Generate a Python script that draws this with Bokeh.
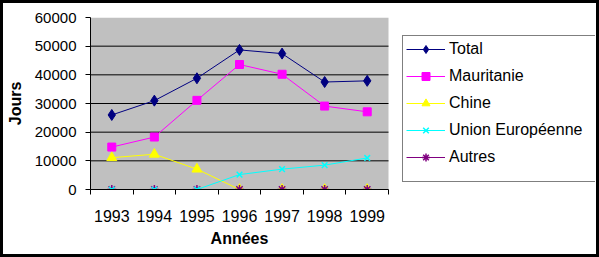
from bokeh.plotting import figure
from bokeh.models import (FixedTicker, NumeralTickFormatter, Legend, LegendItem, Range1d,
                          BoxAnnotation, Title)
from bokeh.embed import file_html
from bokeh.resources import INLINE

years = [1993, 1994, 1995, 1996, 1997, 1998, 1999]
total = [26000, 31000, 38800, 48700, 47400, 37500, 37900]
mauritanie = [14800, 18300, 31100, 43600, 40200, 29100, 27100]
chine = [11100, 12300, 7100, 0, 0, 0, 0]
ue = [0, 0, 0, 5200, 7100, 8500, 11000]
autres = [0, 0, 0, 0, 0, 0, 0]
y_ticks = [0, 10000, 20000, 30000, 40000, 50000, 60000]
series_names = ["Total", "Mauritanie", "Chine", "Union Européenne", "Autres"]
x_title = "Années"
y_title = "Jours"

FONT = "Liberation Sans"
BORDER = 3
W, H = 599, 257
# canvas is offset by the border; frame edges in canvas pixels
FL, FR, FT, FB = 90 - BORDER, 595 - BORDER, 17 - BORDER, 189 - BORDER
PLOT_W = 298  # pixel width of the category area

x_lo, x_hi = years[0] - 0.5, years[-1] + 0.5
x_end = x_lo + (x_hi - x_lo) * (FR - FL) / PLOT_W

p = figure(width=W, height=H, output_backend="svg", toolbar_location=None,
           x_range=Range1d(x_lo, x_end), y_range=Range1d(y_ticks[0], y_ticks[-1]),
           min_border_left=FL, min_border_right=W - FR, min_border_top=FT,
           min_border_bottom=H - FB)
p.background_fill_color = "white"
p.border_fill_color = "white"
p.outline_line_color = None
p.styles = {"border": f"{BORDER}px solid black", "box-sizing": "border-box"}

# grey plot area
p.add_layout(BoxAnnotation(left=x_lo, right=x_hi, bottom=y_ticks[0], top=y_ticks[-1],
                           fill_color="#C0C0C0", fill_alpha=1, line_color=None,
                           level="underlay"))
# horizontal grid lines limited to the plot area
gy = y_ticks[1:-1]
p.segment(x0=[x_lo] * len(gy), x1=[x_hi] * len(gy), y0=gy, y1=gy,
          line_color="black", line_width=1)

specs = {
    "Total": (total, "#000080", "diamond", 11),
    "Mauritanie": (mauritanie, "#FF00FF", "square", 8),
    "Chine": (chine, "#FFFF00", "triangle", 10),
    "Union Européenne": (ue, "#00FFFF", "x", 8),
    "Autres": (autres, "#800080", "asterisk", 9),
}
draw_order = ["Total", "Mauritanie", "Chine", "Autres", "Union Européenne"]
rends = {}
for name in draw_order:
    vals, col, mk, sz = specs[name]
    lr = p.line(years, vals, line_color=col, line_width=1)
    sr = p.scatter(years, vals, marker=mk, size=sz, fill_color=col,
                   line_color=col, line_width=1.5 if mk in ("x", "asterisk") else 1)
    rends[name] = [lr, sr]

p.xaxis.bounds = (x_lo, x_hi)
p.xaxis.ticker = FixedTicker(ticks=years,
                             minor_ticks=[y - 0.5 for y in years] + [x_hi])
p.xaxis.major_tick_out = 0
p.xaxis.major_tick_in = 0
p.xaxis.minor_tick_out = 5
p.xaxis.minor_tick_in = 0
p.xaxis.minor_tick_line_color = "black"
p.xaxis.axis_line_color = "black"
p.xaxis.major_label_text_font = FONT
p.xaxis.major_label_text_font_size = "16px"
p.xaxis.major_label_text_color = "black"
p.xaxis.major_label_standoff = 15

# x title centred under the category area (not under the full frame)
title_font_px = 16
approx_w = 3.612 * title_font_px
p.add_layout(Title(text=x_title, align="left",
                   offset=(PLOT_W / 2) - approx_w / 2,
                   text_font=FONT, text_font_size=f"{title_font_px}px",
                   text_font_style="bold", text_color="black", standoff=6), "below")

p.yaxis.ticker = FixedTicker(ticks=y_ticks)
p.yaxis.formatter = NumeralTickFormatter(format="0")
p.yaxis.major_tick_out = 5
p.yaxis.major_tick_in = 0
p.yaxis.minor_tick_line_color = None
p.yaxis.axis_line_color = "black"
p.yaxis.major_label_text_font = FONT
p.yaxis.major_label_text_font_size = "15px"
p.yaxis.major_label_text_color = "black"
p.yaxis.major_label_standoff = 9
p.yaxis.axis_label = y_title
p.yaxis.axis_label_text_font = FONT
p.yaxis.axis_label_text_font_size = "16px"
p.yaxis.axis_label_text_font_style = "bold"
p.yaxis.axis_label_text_color = "black"
p.yaxis.axis_label_standoff = 8

p.xgrid.grid_line_color = None
p.ygrid.grid_line_color = None

legend = Legend(items=[LegendItem(label=n, renderers=rends[n]) for n in series_names],
                location=(402 - 90, 189 - 182), orientation="vertical", margin=0,
                label_text_font=FONT, label_text_font_size="16px",
                label_text_color="black", glyph_width=39, glyph_height=20,
                label_height=20, label_width=144, spacing=7, padding=3, label_standoff=4,
                border_line_color="black", border_line_width=1,
                background_fill_color="white", background_fill_alpha=1)
if "title_location" in Legend.properties():
    legend.title = " "
    legend.title_location = "below"
    legend.title_text_font_size = "9px"
    legend.title_standoff = 1
else:
    legend.padding = 7
p.add_layout(legend)

open("out.html", "w").write(file_html(p, INLINE))
